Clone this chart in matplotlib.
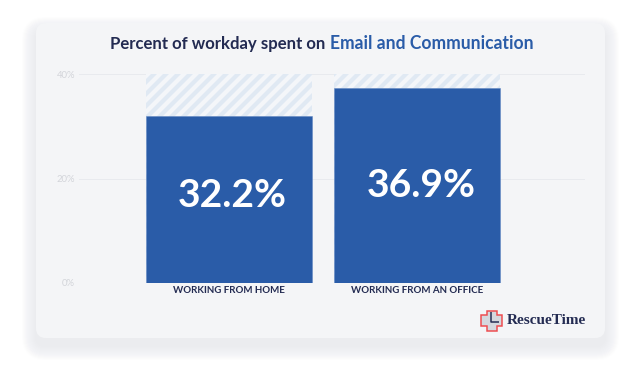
import matplotlib
matplotlib.use('Agg')
from matplotlib import pyplot as plt
from matplotlib.patches import FancyBboxPatch, Polygon

categories = ["WORKING FROM HOME", "WORKING FROM AN OFFICE"]
bar_heights = [32.0, 37.4]
bar_labels = ["32.2%", "36.9%"]
label_y = [16.8, 18.7]
axis_top = 40
y_ticks = [0, 20, 40]
y_tick_labels = ["0%", "20%", "40%"]

title_dark = "Percent of workday spent on "
title_blue = "Email and Communication"

W, H = 640, 368
NAVY = "#232b52"
BLUE = "#2a5ca8"
plt.rcParams['font.family'] = ['Lato', 'DejaVu Sans']
plt.rcParams['hatch.linewidth'] = 4.2
plt.rcParams['hatch.color'] = "#e0e9f3"

fig = plt.figure(figsize=(W/72, H/72), dpi=72, facecolor="white")

# card, shadow and logo are drawn in pixel coords
bg = fig.add_axes([0, 0, 1, 1], zorder=0)
bg.set_xlim(0, W)
bg.set_ylim(H, 0)
bg.axis('off')

# soft shadow, sits a bit below the card
for i in range(14, 0, -1):
    bg.add_patch(FancyBboxPatch((36-i, 31-i), 569+2*i, 315+2*i,
                                boxstyle="round,pad=0,rounding_size=%d" % (10+i),
                                fc="#d4d7dd", ec="none", alpha=0.03))
bg.add_patch(FancyBboxPatch((36, 23), 569, 315, boxstyle="round,pad=0,rounding_size=10",
                            fc="#f4f5f7", ec="none"))

# logo
cross = [(487, 310.5), (497, 310.5), (497, 315), (501.5, 315), (501.5, 326), (497, 326),
         (497, 330.5), (487, 330.5), (487, 326), (481, 326), (481, 315), (487, 315)]
bg.add_patch(Polygon(cross, closed=True, fc="#d5d8de", ec="#ee4b4f", lw=1.5))
bg.plot([490.5, 490.5, 499], [312, 322, 322], color=NAVY, lw=1.5, solid_capstyle='butt')
bg.text(507, 320.5, "RescueTime", family=['Liberation Serif'], fontweight='bold', fontsize=15.2,
        color=NAVY, ha='left', va='center')

ax = fig.add_axes([79/W, (H-283)/H, (585-79)/W, 209/H], zorder=1)
ax.patch.set_alpha(0)
ax.set_xlim(-0.792, 1.887)
ax.set_ylim(0, axis_top)

positions = range(len(categories))
ax.bar(positions, [axis_top]*len(categories), width=0.879, facecolor="#f4f6f9",
       edgecolor="#e0e9f3", hatch='//', lw=0, zorder=2)
ax.bar(positions, bar_heights, width=0.879, color=BLUE, edgecolor="#5f86c2", lw=0.5, zorder=3)

for p, y, s in zip(positions, label_y, bar_labels):
    ax.text(p+0.02, y, s, color="white", fontsize=39, fontweight='bold', ha='center', va='center', zorder=4)

ax.set_yticks(y_ticks)
ax.set_yticklabels(y_tick_labels, fontsize=9.5, color="#d3d5da")
ax.set_xticks(list(positions))
ax.set_xticklabels(categories, fontsize=9.8, fontweight='bold', color=NAVY)
ax.tick_params(axis='both', length=0)
ax.tick_params(axis='x', pad=3)
ax.tick_params(axis='y', pad=4)
ax.grid(axis='y', color="#e8eaee", lw=1, zorder=1)
ax.set_axisbelow(True)
for s in ax.spines.values():
    s.set_visible(False)

t1 = bg.text(110, 44, title_dark, fontsize=16.7, fontweight='bold', color=NAVY, ha='left', va='center')
bg.annotate(title_blue, xy=(1, 0), xycoords=t1, va='bottom', ha='left',
            fontsize=17.5, fontweight='bold', color=BLUE)

fig.savefig("out.png", dpi=72)
